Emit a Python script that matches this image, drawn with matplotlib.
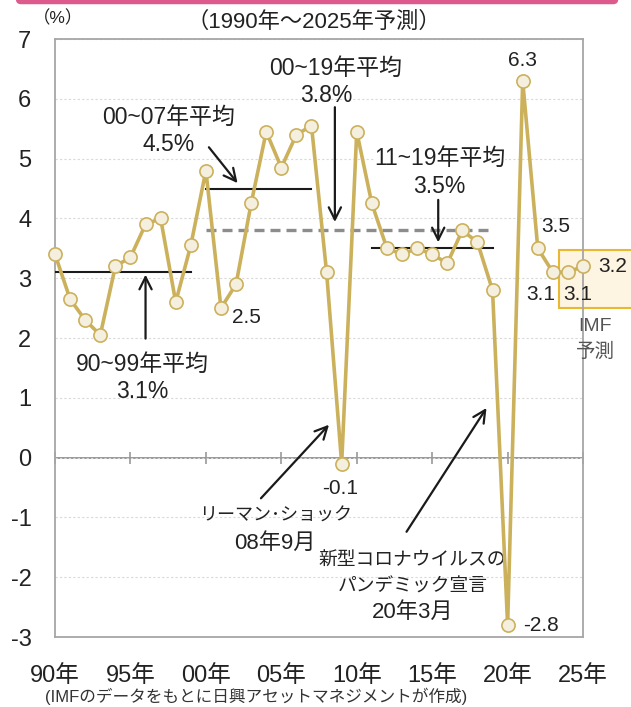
import matplotlib
matplotlib.use('Agg')
import matplotlib.pyplot as plt
from matplotlib.patches import Rectangle, FancyBboxPatch

plt.rcParams['font.family'] = ['Liberation Sans', 'Noto Sans CJK JP']

# 世界の実質GDP成長率（IMF）
years = list(range(1990, 2026))
growth = [3.4, 2.65, 2.3, 2.05, 3.2, 3.35, 3.9, 4.0, 2.6, 3.55,
          4.8, 2.5, 2.9, 4.25, 5.45, 4.85, 5.4, 5.55, 3.1, -0.1,
          5.45, 4.25, 3.5, 3.4, 3.5, 3.4, 3.25, 3.8, 3.6, 2.8,
          -2.8, 6.3, 3.5, 3.1, 3.1, 3.2]

# 期間平均 (開始年, 終了年, 平均値)
avg_solid = [(1990, 1999, 3.1), (2000, 2007, 4.5), (2011, 2019, 3.5)]
avg_dashed = (2000, 2019, 3.8)

xtick_years = [1990, 1995, 2000, 2005, 2010, 2015, 2020, 2025]
xtick_labels = ['90年', '95年', '00年', '05年', '10年', '15年', '20年', '25年']
yticks = list(range(-3, 8))

# 値を表示する年と文字の位置 (points)
value_labels = {2001: (18, -7), 2009: (-1, -18), 2020: (24, 0), 2021: (0, 15),
                2022: (13, 16), 2023: (-9, -16), 2024: (7, -16), 2025: (21, 0)}

LINE = '#ccb15c'
TXT = '#222222'
GRAY = '#a6a6a6'

fig = plt.figure(figsize=(6.31, 7.07), dpi=100)
ax = fig.add_axes([0.0872, 0.099, 0.8368, 0.8458])

ax.set_xlim(1990, 2025)
ax.set_ylim(-3, 7)

ax.grid(axis='y', color='#d9d9d9', linestyle=(0, (2, 2)), lw=0.8)
ax.set_axisbelow(True)

for s in ax.spines.values():
    s.set_color(GRAY)
    s.set_linewidth(1.3)

ax.set_yticks(yticks)
ax.set_yticklabels([str(v) for v in yticks])
ax.set_xticks(xtick_years)
ax.set_xticklabels(xtick_labels)
ax.tick_params(axis='y', length=0, pad=17, labelsize=17, labelcolor=TXT)
ax.tick_params(axis='x', length=0, pad=20, labelsize=17, labelcolor=TXT)

# ゼロの線と目盛り
zero_ax = ax.secondary_xaxis(0, transform=ax.transData)
zero_ax.set_xticks(xtick_years)
zero_ax.set_xticklabels([])
zero_ax.tick_params(direction='inout', length=9, width=1.2, color='#999999')
zero_ax.spines['bottom'].set_color('#999999')
zero_ax.spines['bottom'].set_linewidth(1.4)

# 予測部分の枠
ax.add_patch(Rectangle((2023.4, 2.5), 5.5, 0.98, facecolor='#fdf5e1',
                       edgecolor='#e8b832', lw=1.5, clip_on=False, zorder=1))

# 平均線
for x0, x1, v in avg_solid:
    ax.plot([x0, x1], [v, v], color='#1a1a1a', lw=1.5, zorder=3)
ax.plot([avg_dashed[0], avg_dashed[1]], [avg_dashed[2]] * 2, color='#8c8c8c',
        lw=2.4, ls=(0, (3, 1.8)), zorder=3)

ax.plot(years, growth, color=LINE, lw=2.6, marker='o', ms=9.5,
        mfc='#f5efdf', mec=LINE, mew=1.2, zorder=5, clip_on=False)

for yr, (dx, dy) in value_labels.items():
    v = growth[years.index(yr)]
    ax.annotate(f'{v:.1f}', (yr, v), xytext=(dx, dy), textcoords='offset points',
                ha='center', va='center', fontsize=15, color=TXT,
                annotation_clip=False, zorder=6)

ax.text(2025.8, 2.19, 'IMF', ha='center', va='center', fontsize=14, color='#555555')
ax.text(2025.8, 1.77, '予測', ha='center', va='center', fontsize=14, color='#555555')

arrow = dict(arrowstyle='->', color='#1a1a1a', lw=1.6, mutation_scale=22,
             shrinkA=0, shrinkB=0)
white = dict(facecolor='white', edgecolor='none', pad=0)

# 90~99年平均
ax.text(1995.8, 1.55, '90~99年平均', ha='center', va='center', fontsize=16.5, color=TXT)
ax.text(1995.8, 1.10, f'{avg_solid[0][2]}%', ha='center', va='center', fontsize=16.5, color=TXT)
ax.annotate('', xy=(1996.0, 3.06), xytext=(1996.0, 1.99), arrowprops=arrow)

# 00~07年平均
ax.text(1997.5, 5.69, '00~07年平均', ha='center', va='center', fontsize=16.5, color=TXT, bbox=white)
ax.text(1997.55, 5.23, f'{avg_solid[1][2]}%', ha='center', va='center', fontsize=16.5, color=TXT)
ax.annotate('', xy=(2002.1, 4.59), xytext=(2000.2, 5.19), arrowprops=arrow)

# 00~19年平均
ax.text(2008.6, 6.51, '00~19年平均', ha='center', va='center', fontsize=16.5, color=TXT, bbox=white)
ax.text(2008.0, 6.06, f'{avg_dashed[2]}%', ha='center', va='center', fontsize=16.5, color=TXT)
ax.annotate('', xy=(2008.55, 3.94), xytext=(2008.55, 5.86), arrowprops=arrow)

# 11~19年平均
ax.text(2015.5, 5.01, '11~19年平均', ha='center', va='center', fontsize=16.5, color=TXT, bbox=white)
ax.text(2015.5, 4.54, f'{avg_solid[2][2]}%', ha='center', va='center', fontsize=16.5, color=TXT)
ax.annotate('', xy=(2015.4, 3.6), xytext=(2015.4, 4.31), arrowprops=arrow)

# リーマン・ショック
ax.text(2004.6, -0.98, 'リーマン･ショック', ha='center', va='center', fontsize=13, color=TXT)
ax.text(2004.6, -1.44, '08年9月', ha='center', va='center', fontsize=16, color=TXT)
ax.annotate('', xy=(2008.16, 0.55), xytext=(2003.65, -0.68), arrowprops=arrow)

# パンデミック宣言
ax.text(2013.7, -1.74, '新型コロナウイルスの', ha='center', va='center', fontsize=13.5, color=TXT)
ax.text(2013.7, -2.17, 'パンデミック宣言', ha='center', va='center', fontsize=13.5, color=TXT)
ax.text(2013.7, -2.59, '20年3月', ha='center', va='center', fontsize=16, color=TXT)
ax.annotate('', xy=(2018.6, 0.83), xytext=(2013.3, -1.24), arrowprops=arrow)

fig.text(0.497, 0.968, '（1990年～2025年予測）', ha='center', va='center', fontsize=16, color=TXT)
fig.text(0.092, 0.974, '（%）', ha='center', va='center', fontsize=12.5, color=TXT)
fig.text(0.072, 0.015, '(IMFのデータをもとに日興アセットマネジメントが作成)', ha='left',
         va='center', fontsize=12, color='#333333')

fig.patches.append(FancyBboxPatch((0.025, 0.994), 0.955, 0.03,
                                  boxstyle='round,pad=0,rounding_size=0.008',
                                  transform=fig.transFigure, facecolor='#dc5b8c',
                                  edgecolor='none'))

fig.savefig('out.png', dpi=100)
